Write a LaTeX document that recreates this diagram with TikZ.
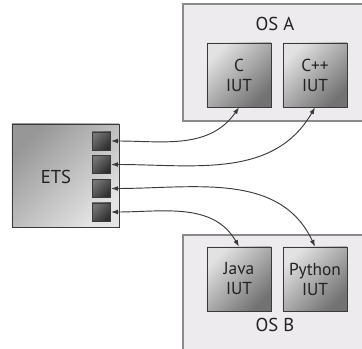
\documentclass[tikz,border=0pt]{standalone}
\usepackage{fontspec}
\setmainfont{PT Sans}
\usepackage{tikz}
\usetikzlibrary{arrows.meta, positioning, calc}
\definecolor{osFill}{HTML}{EEEBEE}
\definecolor{osLine}{HTML}{8A8A8A}
\definecolor{boxLine}{HTML}{3A3A3A}
\definecolor{iutLight}{HTML}{E2E2E2}
\definecolor{iutDark}{HTML}{727272}
\definecolor{etsDark}{HTML}{979797}
\definecolor{etsLight}{HTML}{E4E4E4}
\definecolor{portLight}{HTML}{747474}
\definecolor{portDark}{HTML}{2E2E2E}
\definecolor{txt}{HTML}{222222}
\tikzset{
  osbox/.style={rectangle, draw=osLine, line width=1pt, fill=osFill,
                minimum width=138.75pt},
  iut/.style={rectangle, draw=boxLine, line width=0.6pt, shading=axis,
              top color=iutLight, bottom color=iutDark, shading angle=45,
              minimum size=48pt, align=center, font=\fontsize{13}{15}\selectfont,
              text=txt},
  port/.style={rectangle, draw=boxLine, line width=0.5pt, shading=axis,
               top color=portLight, bottom color=portDark, shading angle=45,
               minimum width=14pt, minimum height=13.5pt},
  link/.style={{Latex[length=5pt,width=3.6pt]}-{Latex[length=5pt,width=3.6pt]},
               draw=boxLine, line width=0.7pt}
}

\begin{document}
\begin{tikzpicture}[x=0.75pt, y=-0.75pt, font=\fontsize{14}{16}\selectfont]
  \useasboundingbox (0,0) rectangle (362,349);
  \fill[white] (0,0) rectangle (362,349);

  \node[osbox, minimum height=87.75pt] (osA) at (275.5,62.5) {};
  \node[osbox, minimum height=90pt] (osB) at (275.5,295) {};
  \node[text=txt] (osAlabel) at (275,24) {OS A};
  \node[text=txt] (osBlabel) at (275,325) {OS B};

  \node[iut] (c) at (239,75) {C\\IUT};
  \node[iut] (cpp) at (315,75) {C++\\IUT};
  \node[iut] (java) at (239,279) {Java\\IUT};
  \node[iut] (python) at (315,279) {Python\\IUT};

  \node[rectangle, draw=boxLine, line width=0.7pt, shading=axis,
        top color=etsDark, bottom color=etsLight, shading angle=45,
        minimum width=80.25pt, minimum height=77.25pt] (ets) at (65.5,175.5) {};
  \node[text=txt] (etslabel) at (56,177) {ETS};

  \node[port] (p1) at (101.5,141) {};
  \node[port] (p2) at (101.5,164.5) {};
  \node[port] (p3) at (101.5,188.5) {};
  \node[port] (p4) at (101.5,212) {};

  \draw[link] (p1.east) to[out=0, in=-125] (c.south);
  \draw[link] (p2.east) to[out=0, in=-120] (cpp.south);
  \draw[link] (p3.east) to[out=0, in=115] (python.north);
  \draw[link] (p4.east) to[out=0, in=120] (java.north);
\end{tikzpicture}
\end{document}
